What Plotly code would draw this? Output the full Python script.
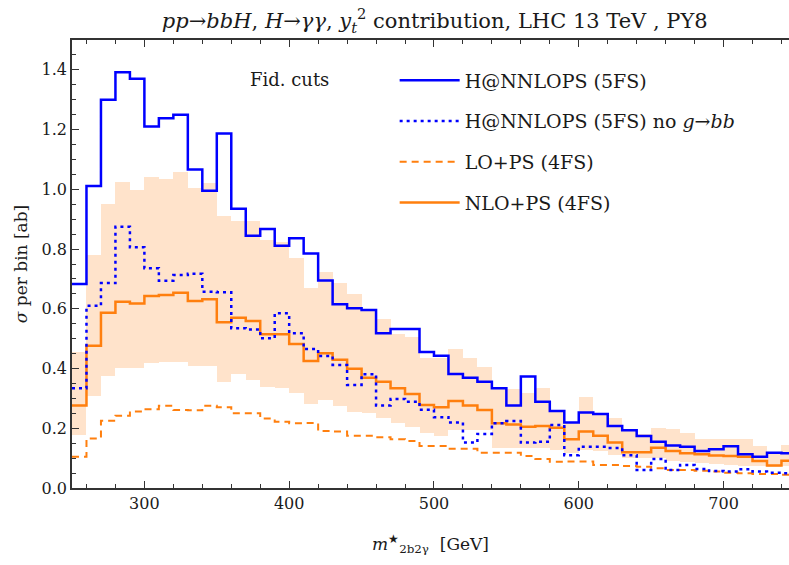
import numpy as np
import plotly.graph_objects as go

# bin edges (GeV): 250..750, width 10
bin_lo = list(range(250, 750, 10))

nnlops = [0.683, 1.011, 1.30, 1.392, 1.37, 1.21, 1.238, 1.25, 1.066, 0.995,
          1.187, 0.935, 0.845, 0.867, 0.811, 0.836, 0.785, 0.695, 0.615, 0.602,
          0.596, 0.518, 0.532, 0.532, 0.455, 0.443, 0.382, 0.369, 0.356, 0.334,
          0.276, 0.373, 0.289, 0.258, 0.219, 0.253, 0.248, 0.208, 0.193, 0.174,
          0.155, 0.142, 0.138, 0.124, 0.13, 0.14, 0.113, 0.105, 0.118, 0.116]

nnlops_nogbb = [0.334, 0.61, 0.686, 0.875, 0.806, 0.736, 0.694, 0.713, 0.717, 0.657,
                0.655, 0.535, 0.531, 0.501, 0.585, 0.518, 0.465, 0.442, 0.412, 0.345,
                0.381, 0.276, 0.298, 0.289, 0.262, 0.237, 0.219, 0.152, 0.181, 0.217,
                0.224, 0.152, 0.155, 0.211, 0.11, 0.138, 0.138, 0.134, 0.11, 0.06,
                0.097, 0.06, 0.077, 0.064, 0.057, 0.055, 0.063, 0.055, 0.051, 0.049]

lo_ps = [0.105, 0.166, 0.225, 0.242, 0.256, 0.264, 0.275, 0.261, 0.26, 0.275,
         0.27, 0.25, 0.25, 0.233, 0.222, 0.217, 0.218, 0.191, 0.189, 0.175,
         0.175, 0.17, 0.163, 0.157, 0.141, 0.141, 0.131, 0.131, 0.118, 0.118,
         0.118, 0.107, 0.097, 0.088, 0.089, 0.089, 0.077, 0.077, 0.074, 0.071,
         0.066, 0.06, 0.06, 0.058, 0.055, 0.051, 0.049, 0.047, 0.047, 0.044]

nlo_ps = [0.276, 0.476, 0.587, 0.624, 0.618, 0.643, 0.646, 0.654, 0.626, 0.632,
          0.555, 0.570, 0.559, 0.515, 0.515, 0.482, 0.425, 0.451, 0.429, 0.399,
          0.369, 0.356, 0.334, 0.315, 0.278, 0.27, 0.291, 0.276, 0.261, 0.217,
          0.213, 0.205, 0.208, 0.202, 0.163, 0.189, 0.175, 0.152, 0.12, 0.12,
          0.135, 0.124, 0.116, 0.113, 0.109, 0.107, 0.105, 0.09, 0.075, 0.091]

nlo_up = [0.456, 0.78, 0.951, 1.024, 0.998, 1.042, 1.034, 1.059, 1.006, 1.02,
          0.912, 0.894, 0.894, 0.83, 0.825, 0.769, 0.669, 0.722, 0.686, 0.649,
          0.593, 0.566, 0.515, 0.507, 0.434, 0.434, 0.465, 0.434, 0.406, 0.33,
          0.33, 0.319, 0.334, 0.26, 0.22, 0.304, 0.25, 0.233, 0.194, 0.18,
          0.2, 0.196, 0.183, 0.163, 0.163, 0.163, 0.163, 0.142, 0.12, 0.144]

nlo_dn = [0.177, 0.309, 0.376, 0.401, 0.401, 0.418, 0.422, 0.422, 0.41, 0.41,
          0.356, 0.381, 0.362, 0.337, 0.334, 0.317, 0.28, 0.295, 0.276, 0.254,
          0.25, 0.233, 0.219, 0.205, 0.183, 0.174, 0.194, 0.194, 0.194, 0.133,
          0.133, 0.133, 0.133, 0.127, 0.118, 0.127, 0.125, 0.11, 0.1, 0.099,
          0.1, 0.09, 0.088, 0.083, 0.08, 0.078, 0.075, 0.073, 0.07, 0.075]

BW = 10
edges = bin_lo + [bin_lo[-1] + BW]
centers = [b + BW / 2 for b in bin_lo]

BLUE = "#0000ff"
ORANGE = "#ff7f0e"
BAND = "#ffe3cb"
FONT = "DejaVu Serif, Liberation Serif, serif"
TXT = "#1a1a1a"


def step(vals):
    return list(vals) + [vals[-1]]


fig = go.Figure()

# uncertainty band of NLO+PS
fig.add_trace(go.Bar(
    x=centers, y=[u - d for u, d in zip(nlo_up, nlo_dn)], base=nlo_dn,
    width=BW, marker=dict(color=BAND, line=dict(width=0)),
    showlegend=False, hoverinfo="skip"))

fig.add_trace(go.Scatter(
    x=edges, y=step(lo_ps), mode="lines", line_shape="hv",
    line=dict(color=ORANGE, width=2, dash="7px,5px"),
    name="LO+PS (4FS)", legendrank=3, legendgroup="c"))

fig.add_trace(go.Scatter(
    x=edges, y=step(nlo_ps), mode="lines", line_shape="hv",
    line=dict(color=ORANGE, width=2.5),
    name="NLO+PS (4FS)", legendrank=4, legendgroup="d"))

fig.add_trace(go.Scatter(
    x=edges, y=step(nnlops_nogbb), mode="lines", line_shape="hv",
    line=dict(color=BLUE, width=2.5, dash="3px,4px"),
    name="H@NNLOPS (5FS) no <i>g</i>→<i>bb</i>", legendrank=2, legendgroup="b"))

fig.add_trace(go.Scatter(
    x=edges, y=step(nnlops), mode="lines", line_shape="hv",
    line=dict(color=BLUE, width=2.5),
    name="H@NNLOPS (5FS)", legendrank=1, legendgroup="a"))

fig.add_annotation(text="Fid. cuts", x=0.304, y=0.911, xref="paper", yref="paper",
                   xanchor="center", yanchor="middle",
                   showarrow=False, font=dict(family=FONT, size=18, color=TXT))

fig.update_layout(
    width=789, height=565,
    margin=dict(l=72, r=0, t=40, b=77),
    plot_bgcolor="white", paper_bgcolor="white",
    barmode="overlay", bargap=0,
    font=dict(family=FONT, size=16, color=TXT),
    title=dict(
        text="<i>pp</i>→<i>bbH</i>, <i>H</i>→<i>γγ</i>, <i>y</i><sub><i>t</i></sub><sup>2</sup> contribution, LHC 13 TeV , PY8",
        x=0.551, xanchor="center", y=0.963, yanchor="middle",
        font=dict(family=FONT, size=21, color=TXT)),
    legend=dict(x=0.45, y=0.952, xanchor="left", yanchor="top",
                bgcolor="rgba(0,0,0,0)", font=dict(family=FONT, size=19, color=TXT),
                tracegroupgap=13, itemwidth=60),
    showlegend=True,
)

fig.update_xaxes(
    range=[250, 745.2], showgrid=False, zeroline=False,
    showline=True, linecolor="#333", linewidth=1.5, mirror="ticks",
    ticks="inside", ticklen=7, tickwidth=1, tickcolor="#333",
    tickvals=[300, 400, 500, 600, 700],
    minor=dict(ticks="inside", ticklen=4, dtick=20, tick0=0, tickcolor="#333", showgrid=False),
    tickfont=dict(family=FONT, size=16),
    title=dict(text="<i>m</i><sup>★</sup><sub>2b2γ</sub>  [GeV]", standoff=26,
               font=dict(family=FONT, size=17)))

fig.update_yaxes(
    range=[0, 1.5], showgrid=False, zeroline=False,
    showline=True, linecolor="#333", linewidth=1.5, mirror=False,
    ticks="inside", ticklen=7, tickwidth=1, tickcolor="#333",
    tickvals=[0.0, 0.2, 0.4, 0.6, 0.8, 1.0, 1.2, 1.4], tickformat=".1f",
    minor=dict(ticks="inside", ticklen=4, dtick=0.05, tick0=0, tickcolor="#333", showgrid=False),
    tickfont=dict(family=FONT, size=16),
    title=dict(text="<i>σ</i> per bin [ab]", standoff=10, font=dict(family=FONT, size=17)))

fig.write_html("out.html")
